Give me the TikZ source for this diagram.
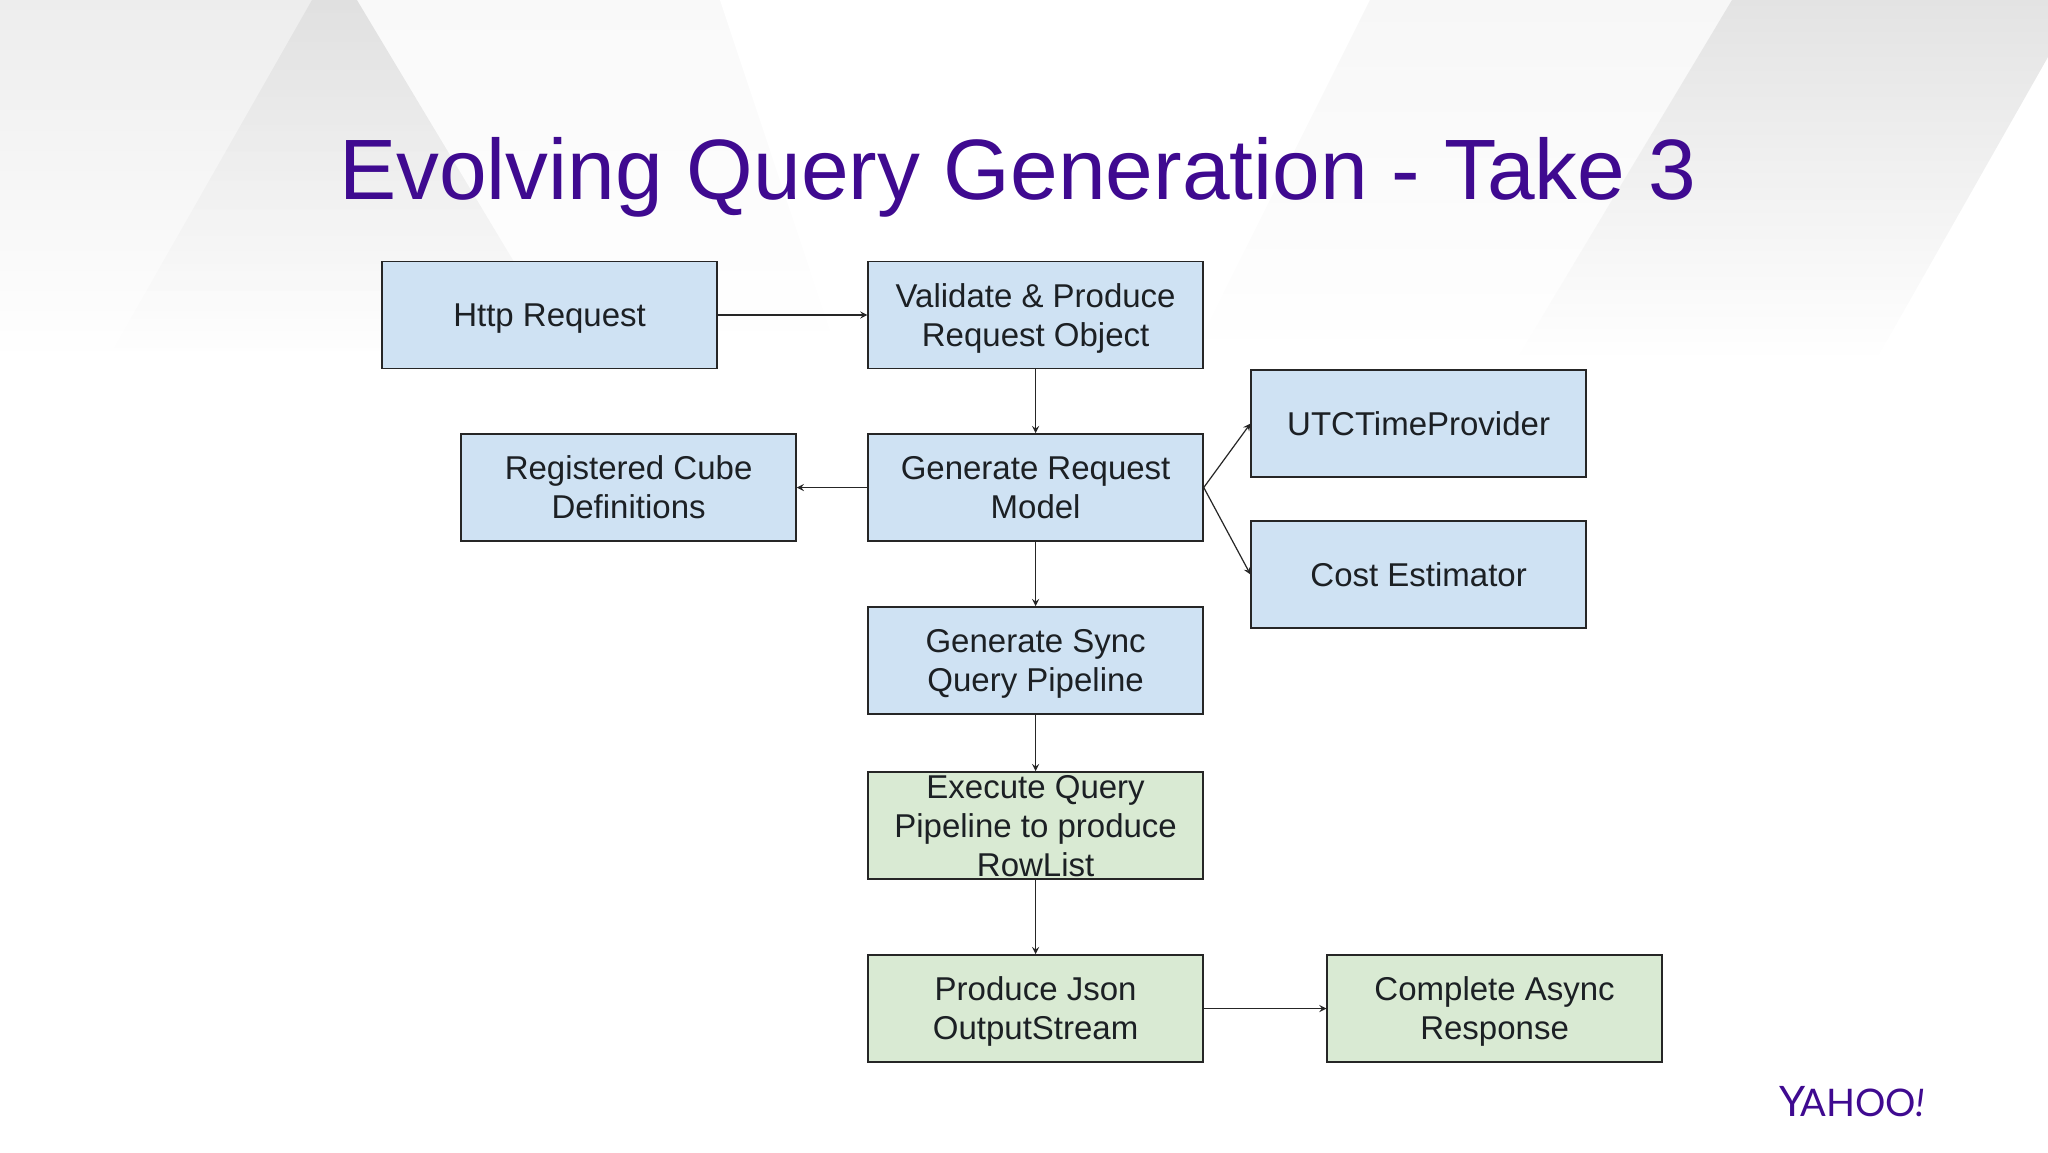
\documentclass[tikz,border=0pt]{standalone}
\usepackage{xcolor}
\usepackage{fontspec}
\setmainfont{Liberation Sans}
\newfontfamily\logofont{Lato}
\usepackage{tikz}
\usetikzlibrary{arrows,fadings}
\definecolor{yahoopurple}{HTML}{3F0A90}
\definecolor{boxblue}{HTML}{CFE2F3}
\definecolor{boxgreen}{HTML}{D9EAD3}
\definecolor{boxtext}{HTML}{1C2024}

\begin{document}
\begin{tikzpicture}[x=0.5pt, y=-0.5pt, >=stealth,
    stage/.style={rectangle, draw=black!85, line width=0.75pt, minimum width=167.4pt, minimum height=53.6pt,
      inner sep=0pt, align=center, text=boxtext, font=\fontsize{16.5}{19.5}\selectfont,
      execute at begin node={\rule{0pt}{15.8pt}}, execute at end node={\rule[-4pt]{0pt}{4pt}}},
    blue stage/.style={stage, fill=boxblue},
    green stage/.style={stage, fill=boxgreen},
    low/.style={execute at begin node={\rule{0pt}{#1}}},
    flow/.style={draw=black!85, line width=0.6pt, ->},
    band/.style={fill=black, path fading=south}]

  \useasboundingbox (0,0) rectangle (2048,1152);
  \fill[white] (0,0) rectangle (2048,1152);

  \path[band, fill opacity=0.025] (357,0) -- (720,0) -- (840,360) -- (573,360) -- cycle;
  \path[band, fill opacity=0.03] (1370,0) -- (1732,0) -- (1516,360) -- (1190,360) -- cycle;
  \path[band, fill opacity=0.07] (0,0) -- (357,0) -- (573,360) -- (0,360) -- cycle;
  \path[band, fill opacity=0.05] (312,0) -- (357,0) -- (573,360) -- (107,360) -- cycle;
  \path[band, fill opacity=0.11] (1732,0) -- (2048,0) -- (2048,57) -- (1876,360) -- (1516,360) -- cycle;

  \node[text=yahoopurple, font=\fontsize{42.85}{48}\selectfont, inner sep=0pt, anchor=base] (title) at (1018,199)
    {Evolving Query Generation - Take 3};

  \node[blue stage] (http) at (549.6,315) {Http Request};
  \node[blue stage, low=35.3pt, right of=http, node distance=243pt] (validate) {Validate \& Produce\\Request Object};
  \node[blue stage, low=35.3pt, below of=validate, node distance=86.25pt] (model) {Generate Request\\Model};
  \node[blue stage, low=35.3pt, left of=model, node distance=203.5pt] (cube) {Registered Cube\\Definitions};
  \node[blue stage] (utc) at (1418.6,423.5) {UTCTimeProvider};
  \node[blue stage, below of=utc, node distance=75.5pt] (cost) {Cost Estimator};
  \node[blue stage, low=35.3pt, below of=model, node distance=86.5pt] (sync) {Generate Sync\\Query Pipeline};
  \node[green stage, below of=sync, node distance=82.5pt] (execute) {};
  \node[stage, draw=none, low=54.8pt] (executetext) at (execute) {Execute Query\\Pipeline to produce\\RowList};
  \node[green stage, low=35.3pt, below of=execute, node distance=91.5pt] (json) {Produce Json\\OutputStream};
  \node[green stage, low=35.3pt, right of=json, node distance=229.5pt] (async) {Complete Async\\Response};

  \node[text=yahoopurple, inner sep=0pt, anchor=base] (logo) at (1852,1116)
    {\logofont\fontsize{21}{21}\selectfont Y\kern-2.5pt\fontsize{19}{19}\selectfont AHOO\kern-0.5pt\textit{!}};

  \draw[flow] (http) -- (validate);
  \draw[flow] (validate) -- (model);
  \draw[flow] (model) -- (cube);
  \draw[flow] (model.east) -- (utc.west);
  \draw[flow] (model.east) -- (cost.west);
  \draw[flow] (model) -- (sync);
  \draw[flow] (sync) -- (execute);
  \draw[flow] (execute) -- (json);
  \draw[flow] (json) -- (async);

\end{tikzpicture}
\end{document}
